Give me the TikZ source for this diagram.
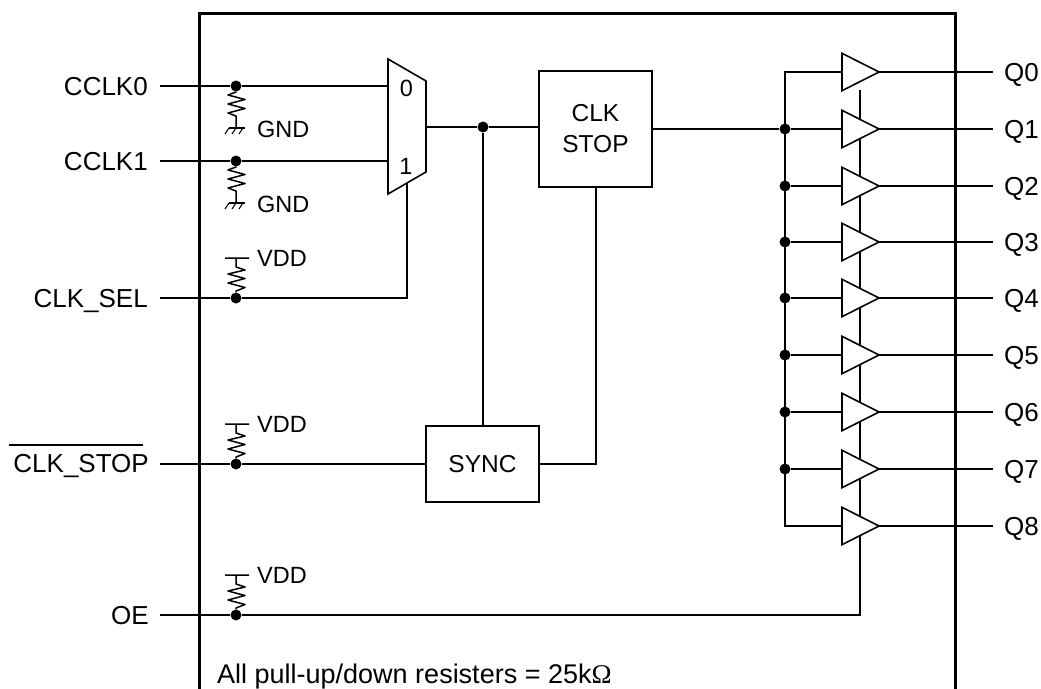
\documentclass[tikz,border=0pt]{standalone}
\usepackage{fontspec}
\setmainfont{Liberation Sans}
\newfontfamily\omegafont{Liberation Serif}
\tikzset{
  x=1pt,y=-1pt,
  wire/.style={line width=1.6pt,line join=miter},
  reswire/.style={line width=1.5pt,line join=round},
  frame/.style={line width=3pt},
  blockbox/.style={draw,line width=1.6pt,fill=white,inner sep=0pt,align=center,font=\fontsize{24.5}{31}\selectfont},
  dotnode/.style={circle,fill=black,inner sep=0pt,minimum size=11pt},
  pinlab/.style={inner sep=0pt,anchor=base east,font=\fontsize{26}{30}\selectfont},
  outlab/.style={inner sep=0pt,anchor=base west,font=\fontsize{26}{30}\selectfont},
  smalllab/.style={inner sep=0pt,anchor=base west,font=\fontsize{23.5}{28}\selectfont},
  muxlab/.style={inner sep=0pt,font=\fontsize{23.5}{28}\selectfont},
  buf/.style={draw,line width=1.6pt,fill=white,line join=miter},
}
\begin{document}
\begin{tikzpicture}
\useasboundingbox (0,0) rectangle (1041,688);
\coordinate (oeEnd) at (860,615);
\coordinate (enTop) at (860,90);

% frame
\coordinate (fbl) at (199,690);
\coordinate (ftl) at (199,13);
\coordinate (ftr) at (955,13);
\coordinate (fbr) at (955,690);
\draw[frame] (fbl) -- (ftl) -- (ftr) -- (fbr);

% dots
\foreach \n/\x/\y in {d0/236/86,d1/236/161,ds/236/298,dc/236/464,de/236/615,dm/483/127,
  b1/785/129,b2/785/186,b3/785/242,b4/785/298,b5/785/355,b6/785/412,b7/785/469}
  \node[dotnode] (\n) at (\x,\y) {};

% input labels and wire starts
\node[pinlab] (lCCLK0) at (148,95) {CCLK0};
\node[pinlab] (lCCLK1) at (148,170) {CCLK1};
\node[pinlab] (lSEL) at (148,307) {CLK\_SEL};
\node[pinlab] (lSTOP) at (149,472) {CLK\_STOP};
\coordinate (ob1) at (9,445);
\coordinate (ob2) at (143,445);
\draw[line width=1.5pt] (ob1) -- (ob2);
\node[pinlab] (lOE) at (149,624) {OE};
\coordinate (s0) at (160,86);
\coordinate (s1) at (160,161);
\coordinate (ss) at (160,298);
\coordinate (sc) at (160,464);
\coordinate (se) at (160,615);

% mux
\coordinate (m1) at (388,59);
\coordinate (m2) at (426,81);
\coordinate (m3) at (426,172);
\coordinate (m4) at (388,194);
\coordinate (mi0) at (388,86);
\coordinate (mi1) at (388,161);
\coordinate (mo) at (426,127);
\coordinate (ms) at (407,183);
\coordinate (msb) at (407,298);
\draw[wire] (s0) -- (d0) -- (mi0);
\draw[wire] (s1) -- (d1) -- (mi1);
\draw[wire] (ss) -- (ds) -- (msb) -- (ms);
\draw[buf] (m1) -- (m2) -- (m3) -- (m4) -- cycle;
\node[muxlab] (m0t) at (406.5,88) {0};
\node[muxlab] (m1t) at (406,166) {1};

% blocks
\node[blockbox,minimum width=113pt,minimum height=116pt] (stop) at (595.5,129) {CLK\\STOP};
\node[blockbox,minimum width=113pt,minimum height=76pt] (sync) at (482.5,464) {SYNC};
\coordinate (rise) at (596,464);
\draw[wire] (mo) -- (dm) -- (stop.west |- dm);
\draw[wire] (dm) -- (sync.north -| dm);
\draw[wire] (sc) -- (dc) -- (sync.west |- dc);
\draw[wire] (sync.east) -- (rise) -- (stop.south -| rise);

% enable
\draw[wire] (se) -- (de) -- (oeEnd) -- (enTop);

% output bus and buffers
\coordinate (bt) at (785,72);
\coordinate (bb) at (785,526);
\coordinate (bti) at (842,72);
\coordinate (bbi) at (842,526);
\draw[wire] (bti) -- (bt) -- (bb) -- (bbi);
\draw[wire] (stop.east |- b1) -- (b1);
\foreach \i/\y in {0/72,1/129,2/186,3/242,4/298,5/355,6/412,7/469,8/526}{
  \coordinate (inp\i) at (842,\y);
  \coordinate (tip\i) at (879,\y);
  \coordinate (end\i) at (993,\y);
  \draw[buf] (842,\y-18.7) -- (tip\i) -- (842,\y+18.7) -- cycle;
  \draw[wire] (tip\i) -- (end\i);
  \node[outlab] (q\i) at (1004,\y+9) {Q\i};
}
\foreach \i in {1,...,7}
  \draw[wire] (b\i) -- (inp\i);

% pull-downs
\foreach \n/\y/\m in {d0/86/g0,d1/161/g1}{
  \draw[reswire] (\n) -- (236,\y+6) -- (228,\y+9) -- (245,\y+13.5) -- (228,\y+18) -- (245,\y+22.5) -- (228,\y+27) -- (236,\y+30) -- (236,\y+42);
  \draw[reswire] (229,\y+42) -- (245,\y+42);
  \draw[line width=1pt] (229,\y+42) -- (225,\y+48) (236,\y+42) -- (232,\y+48) (243,\y+42) -- (239,\y+48);
  \node[smalllab] (\m) at (257,\y+51) {GND};
}
% pull-ups
\foreach \n/\y/\m in {ds/298/v0,dc/464/v1,de/615/v2}{
  \draw[reswire] (225,\y-40) -- (249,\y-40) (236,\y-40) -- (236,\y-31) -- (245,\y-28) -- (228,\y-24) -- (245,\y-19.5) -- (228,\y-15) -- (245,\y-10.5) -- (236,\y-7) -- (\n);
  \node[smalllab] (\m) at (257,\y-32) {VDD};
}

% note
\node[inner sep=0pt,anchor=base west,font=\fontsize{27}{30}\selectfont] (note) at (217,683) {All pull-up/down resisters = 25k{\omegafont Ω}};
\end{tikzpicture}
\end{document}
